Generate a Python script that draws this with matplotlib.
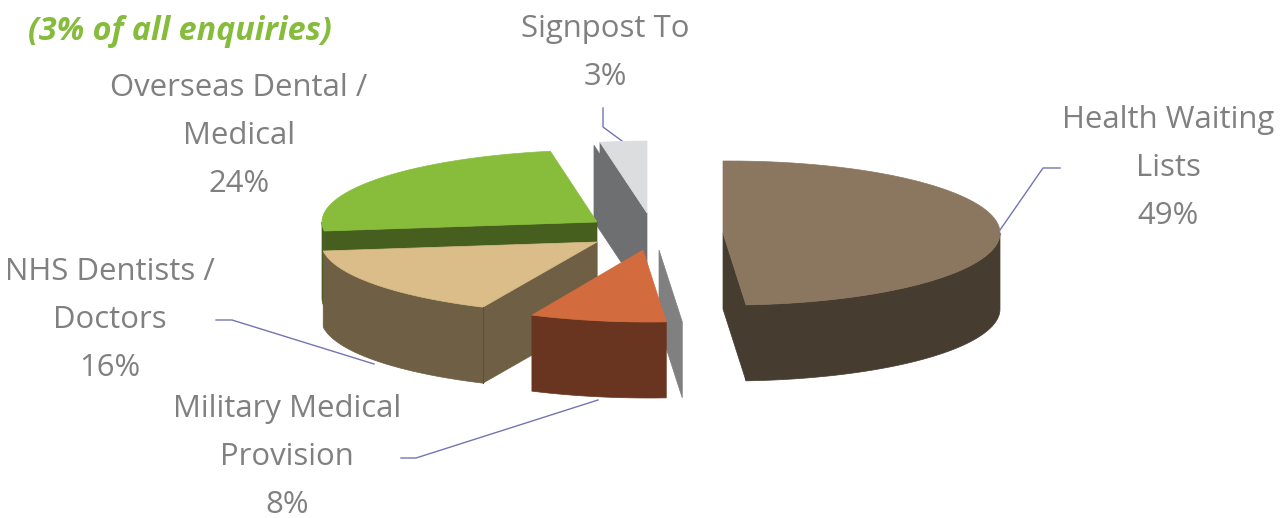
import numpy as np
import matplotlib
matplotlib.use("Agg")
import matplotlib.pyplot as plt
from matplotlib.patches import Polygon

# chart data, clockwise from 12 o'clock
labels = ["Health Waiting\nLists", "Military Medical\nProvision", "NHS Dentists /\nDoctors",
          "Overseas Dental /\nMedical", "Signpost To"]
values = [49, 8, 16, 24, 3]
title = "(3% of all enquiries)"

# look of each slice
apex_x = [723, 643, 597, 597, 647]
apex_y = [233, 250, 242, 222, 213]
rx_list = [271, 275, 282, 281, 283]
top_col = ["#8B7760", "#D26B3E", "#DABD89", "#88BD3C", "#DCDDDF"]
wall_col = ["#463C30", "#6A3520", "#6F5F45", "#465E1E", "#6E6F71"]
label_x = [1168, 287, 110, 239, 605]
label_y = [120, 409, 272, 88, 29]
line_h = 48

RY = 72
DEPTH = 76
GREY = "#808080"
LEADER = "#7474B4"

ends = np.cumsum(values) * 360.0 / np.sum(values)
starts = np.concatenate(([0], ends[:-1]))

fig = plt.figure(figsize=(12.86, 5.18), dpi=100)
ax = fig.add_axes([0, 0, 1, 1])
ax.set_xlim(0, 1286)
ax.set_ylim(518, 0)
ax.axis("off")


def rim(i, t0, t1):
    t = np.radians(np.linspace(t0, t1, 80))
    x = apex_x[i] + 6 + rx_list[i] * np.sin(t)
    y = apex_y[i] - RY * np.cos(t)
    return np.column_stack((x, y))


def poly(pts, col, z):
    ax.add_patch(Polygon(pts, closed=True, fc=col, ec=col, lw=0.5, zorder=z))


def wall(i, t0, t1, col, z):
    r = rim(i, t0, t1)
    poly(np.vstack((r, r[::-1] + [0, DEPTH])), col, z)


def cut(i, t, col, z, off=(0, 0)):
    a = np.array([apex_x[i], apex_y[i]], dtype=float) + off
    r = rim(i, t, t)[0] + off
    poly([a, r, r + [0, DEPTH], a + [0, DEPTH]], col, z)


def top(i, z):
    r = rim(i, starts[i], ends[i])
    if ends[i] >= 360:
        r[:, 0] = np.minimum(r[:, 0], apex_x[i])
    pts = [[apex_x[i], apex_y[i]]]
    if starts[i] == 0:
        pts.append([apex_x[i], apex_y[i] - RY])
    poly(np.vstack((pts, r)), top_col[i], z)


# signpost, back of the pile
cut(4, starts[4], wall_col[4], 1, off=(-6, 3))
cut(4, starts[4], wall_col[4], 1)
top(4, 2)

# overseas
wall(3, starts[3], 270, wall_col[3], 3)
cut(3, starts[3], wall_col[3], 3)
top(3, 4)

# nhs
cut(2, starts[2], wall_col[2], 5)
wall(2, starts[2], ends[2], wall_col[2], 5)
top(2, 6)
edge = rim(2, starts[2], starts[2])[0]
ax.plot([edge[0], edge[0]], [edge[1], edge[1] + DEPTH], color="#5C4E38", lw=0.8, zorder=6)

# health
cut(0, ends[0], wall_col[0], 7)
wall(0, 90, ends[0], wall_col[0], 7)
top(0, 8)

# military, with the loose grey side
cut(1, starts[1], GREY, 7, off=(16, 0))
wall(1, starts[1], ends[1], wall_col[1], 9)
top(1, 10)

# leader lines
ax.plot([1000, 1043, 1060], [230, 168, 168], color=LEADER, lw=1, zorder=11)
ax.plot([603, 603, 622], [108, 127, 141], color=LEADER, lw=1, zorder=0)
ax.plot([216, 232, 374], [320, 320, 364], color=LEADER, lw=1, zorder=11)
ax.plot([401, 416, 598], [458, 458, 400], color=LEADER, lw=1, zorder=11)

# labels
for i in range(len(labels)):
    lines = labels[i].split("\n") + [f"{values[i]}%"]
    for k, s in enumerate(lines):
        ax.text(label_x[i], label_y[i] + k * line_h, s, color=GREY, fontsize=22.4,
                family="Open Sans", ha="center", va="center")

ax.text(28, 31, title, color="#85BC3B", fontsize=23.2, family="Open Sans", style="italic",
        weight="bold", ha="left", va="center")

fig.savefig("out.png", dpi=100)
